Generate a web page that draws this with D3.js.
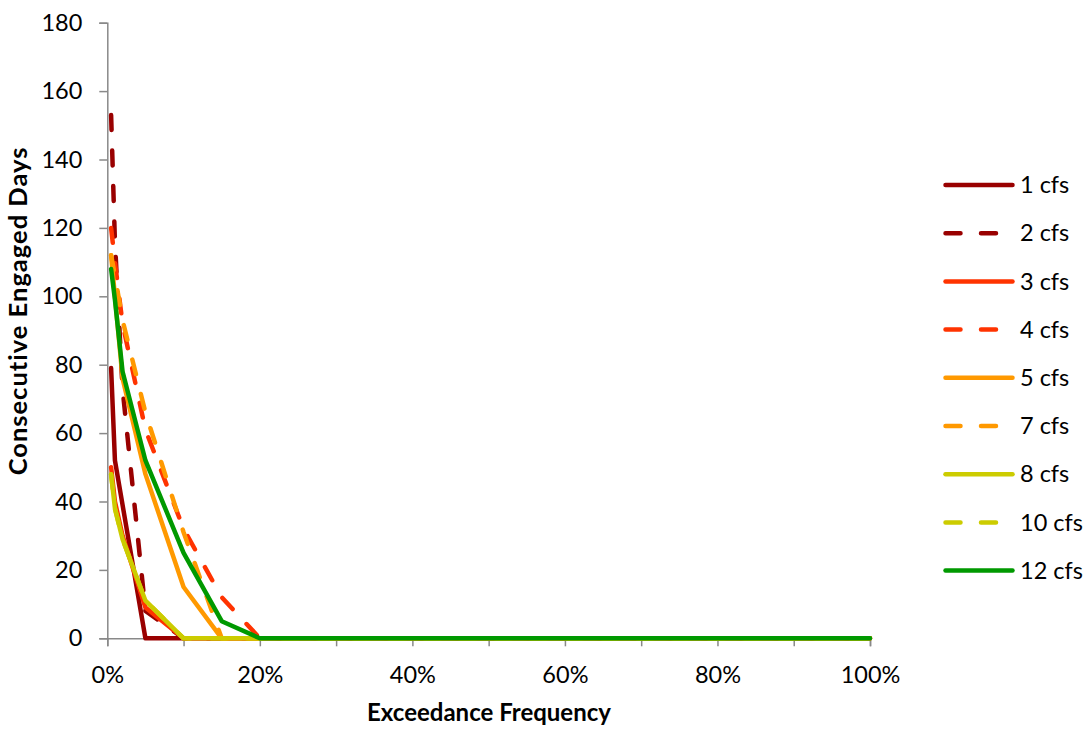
<!DOCTYPE html>
<html>
<head>
<meta charset="utf-8">
<script src="https://cdn.jsdelivr.net/npm/d3@7/dist/d3.min.js"></script>
<style>
  html, body { margin: 0; padding: 0; background: #fff; }
  svg { display: block; font-family: Lato, "Open Sans", sans-serif; }
</style>
</head>
<body>
<svg id="chart" width="1091" height="729"></svg>
<script>
// Exceedance frequency (fraction of time) for each point
const exceedance = [0.005, 0.01, 0.02, 0.05, 0.10, 0.15, 0.20, 0.30, 0.40, 0.50, 0.60, 0.70, 0.80, 0.90, 1.00];

// Consecutive engaged days per flow threshold
const cfs1  = [79, 52, 39, 0, 0, 0, 0, 0, 0, 0, 0, 0, 0, 0, 0];
const cfs2  = [153, 116, 73, 8, 0, 0, 0, 0, 0, 0, 0, 0, 0, 0, 0];
const cfs3  = [50, 40, 30, 9, 0, 0, 0, 0, 0, 0, 0, 0, 0, 0, 0];
const cfs4  = [120, 110, 92, 61, 32, 12, 0, 0, 0, 0, 0, 0, 0, 0, 0];
const cfs5  = [112, 100, 76, 48, 15, 0, 0, 0, 0, 0, 0, 0, 0, 0, 0];
const cfs7  = [112, 106, 93, 66, 31, 0, 0, 0, 0, 0, 0, 0, 0, 0, 0];
const cfs8  = [48, 38, 29, 11, 0, 0, 0, 0, 0, 0, 0, 0, 0, 0, 0];
const cfs10 = [48, 38, 29, 11, 0, 0, 0, 0, 0, 0, 0, 0, 0, 0, 0];
const cfs12 = [108, 99, 78, 52, 25, 5, 0, 0, 0, 0, 0, 0, 0, 0, 0];

const seriesNames  = ["1 cfs", "2 cfs", "3 cfs", "4 cfs", "5 cfs", "7 cfs", "8 cfs", "10 cfs", "12 cfs"];
const seriesValues = [cfs1, cfs2, cfs3, cfs4, cfs5, cfs7, cfs8, cfs10, cfs12];
const seriesColors = ["#990000", "#990000", "#ff3300", "#ff3300", "#ff9900", "#ff9900", "#cccc00", "#cccc00", "#009900"];
const seriesDashed = [false, true, false, true, false, true, false, true, false];

const yTicks = [0, 20, 40, 60, 80, 100, 120, 140, 160, 180];
const xTicks = [0, 0.1, 0.2, 0.3, 0.4, 0.5, 0.6, 0.7, 0.8, 0.9, 1.0];
const xLabelTicks = [0, 0.2, 0.4, 0.6, 0.8, 1.0];

const xTitle = "Exceedance Frequency";
const yTitle = "Consecutive Engaged Days";

const svg = d3.select("#chart");
const axisColor = "#898989";
const labelSize = 23.5;

const x = d3.scaleLinear().domain([0, 1]).range([107.3, 870]);
const y = d3.scaleLinear().domain([0, 180]).range([638.3, 22.7]);

// Y axis
const yAxis = d3.axisLeft(y).tickValues(yTicks).tickSize(8).tickPadding(17).tickFormat(d3.format("d"));
const gy = svg.append("g").attr("transform", `translate(${x(0)},0)`).call(yAxis);
gy.select(".domain").attr("stroke", axisColor).attr("stroke-width", 1.5);
gy.selectAll(".tick line").attr("stroke", axisColor).attr("stroke-width", 1.5);
gy.selectAll(".tick text").attr("fill", "#000").attr("font-size", labelSize).attr("font-family", "Lato, sans-serif");

// X axis
const xAxis = d3.axisBottom(x).tickValues(xTicks).tickSize(8).tickPadding(20)
  .tickFormat(d => xLabelTicks.some(v => Math.abs(v - d) < 1e-9) ? d3.format(".0%")(d) : "");
const gx = svg.append("g").attr("transform", `translate(0,${y(0)})`).call(xAxis);
gx.select(".domain").attr("stroke", axisColor).attr("stroke-width", 1.5);
gx.selectAll(".tick line").attr("stroke", axisColor).attr("stroke-width", 1.5);
gx.selectAll(".tick text").attr("fill", "#000").attr("font-size", labelSize).attr("font-family", "Lato, sans-serif");

// Axis titles
svg.append("text")
  .attr("x", 489).attr("y", 721)
  .attr("text-anchor", "middle")
  .attr("font-size", 24).attr("font-weight", "bold")
  .text(xTitle);

svg.append("text")
  .attr("transform", `translate(27,311) rotate(-90)`)
  .attr("text-anchor", "middle")
  .attr("font-size", 25.5).attr("font-weight", "bold")
  .attr("letter-spacing", 1)
  .text(yTitle);

// Series lines
const line = d3.line()
  .x((d, i) => x(exceedance[i]))
  .y(d => y(d));

const plot = svg.append("g");
seriesValues.forEach((vals, k) => {
  plot.append("path")
    .datum(vals)
    .attr("d", line)
    .attr("fill", "none")
    .attr("stroke", seriesColors[k])
    .attr("stroke-width", 4.5)
    .attr("stroke-linejoin", "round")
    .attr("stroke-linecap", "round")
    .attr("stroke-dasharray", seriesDashed[k] ? "15,20.5" : null);
});

// Legend
const legend = svg.append("g");
seriesNames.forEach((name, k) => {
  const cy = 185 + k * 48.2;
  legend.append("line")
    .attr("x1", 945.5).attr("x2", 1012.5)
    .attr("y1", cy).attr("y2", cy)
    .attr("stroke", seriesColors[k])
    .attr("stroke-width", 4.5)
    .attr("stroke-linecap", "round")
    .attr("stroke-dasharray", seriesDashed[k] ? "15,20.5" : null);
  legend.append("text")
    .attr("x", 1020).attr("y", cy)
    .attr("dy", "0.35em")
    .attr("font-size", labelSize)
    .text(name);
});
</script>
</body>
</html>
